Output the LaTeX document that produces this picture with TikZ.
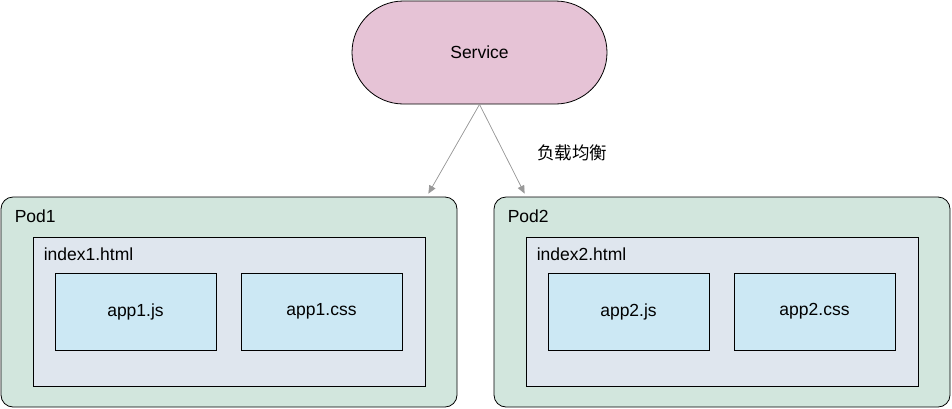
\documentclass[tikz,border=0pt]{standalone}
\usepackage{fontspec}
\setmainfont{Liberation Sans}
\newfontfamily\cjk{Noto Sans CJK SC}
\usepackage{tikz}
\usetikzlibrary{positioning,arrows.meta}
\definecolor{svcpink}{HTML}{E6C3D6}
\definecolor{podgreen}{HTML}{D2E6DD}
\definecolor{pagegray}{HTML}{DFE6EE}
\definecolor{fileblue}{HTML}{CCE8F4}

\begin{document}
\begin{tikzpicture}[x=1pt, y=-1pt, >={Triangle[length=8pt,width=7pt]},
    font=\fontsize{17.5}{20}\selectfont,
    box/.style={draw=black, line width=0.8pt, inner sep=0pt},
    pod/.style={box, fill=podgreen, rounded corners=12pt, minimum width=456pt, minimum height=210pt},
    page/.style={box, fill=pagegray, minimum width=392pt, minimum height=149pt},
    file/.style={box, fill=fileblue, minimum width=161pt, minimum height=77pt},
    lbl/.style={anchor=west, inner sep=0pt}]
    \useasboundingbox (0,0) rectangle (952,408);

    \node[box, fill=svcpink, rounded corners=51.5pt, minimum width=255pt, minimum height=103pt]
      (svc) at (479.5,52.5) {Service};

    % two pods, each with one page and two files
    \foreach \i/\x in {1/229, 2/722} {
      \node[pod]  (pod\i)  at (\x,302)   {};
      \node[page] (page\i) at (\x,311.5) {};
      \node[file] (js\i)   at (\x-93.5,311.5) {app\i.js};
      \node[file] (css\i)  at (\x+92.5,311.5) {app\i.css};
      \node[lbl] (podl\i)  at ([xshift=14pt, yshift=-20pt]pod\i.north west) {Pod\i};
      \node[lbl] (pagel\i) at ([xshift=11pt, yshift=-18pt]page\i.north west) {index\i.html};
    }

    \coordinate (t1) at ([xshift=-29pt, yshift=3pt]pod1.north east);
    \coordinate (t2) at ([xshift=31pt, yshift=3pt]pod2.north west);
    \foreach \t in {t1, t2} \draw[->, draw=black!40, fill=black!40, line width=0.7pt] (svc.south) -- (\t);

    \node (lb) at (572,153) {\cjk 负载均衡};
  \end{tikzpicture}
\end{document}
